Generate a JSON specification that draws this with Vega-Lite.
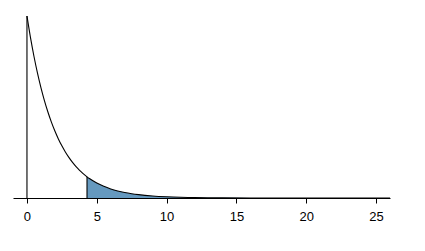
{
  "$schema": "https://vega.github.io/schema/vega-lite/v6.json",
  "width": 377,
  "height": 182,
  "autosize": "none",
  "padding": {"left": 13, "top": 16, "right": 35, "bottom": 53},
  "background": "white",
  "config": {"view": {"stroke": null}, "font": "Liberation Sans"},
  "datasets": {
    "curve": [
      {"x": 0, "y": 0.5}, {"x": 0.25, "y": 0.4412}, {"x": 0.5, "y": 0.3894}, {"x": 0.75, "y": 0.3436},
      {"x": 1, "y": 0.3033}, {"x": 1.25, "y": 0.2676}, {"x": 1.5, "y": 0.2362}, {"x": 1.75, "y": 0.2084},
      {"x": 2, "y": 0.1839}, {"x": 2.25, "y": 0.1623}, {"x": 2.5, "y": 0.1433}, {"x": 2.75, "y": 0.1264},
      {"x": 3, "y": 0.1116}, {"x": 3.25, "y": 0.0985}, {"x": 3.5, "y": 0.0869}, {"x": 3.75, "y": 0.0767},
      {"x": 4, "y": 0.0677}, {"x": 4.3, "y": 0.0582}, {"x": 4.5, "y": 0.0527}, {"x": 5, "y": 0.041},
      {"x": 5.5, "y": 0.032}, {"x": 6, "y": 0.0249}, {"x": 6.5, "y": 0.0194}, {"x": 7, "y": 0.0151},
      {"x": 7.5, "y": 0.0118}, {"x": 8, "y": 0.0092}, {"x": 9, "y": 0.0056}, {"x": 10, "y": 0.0034},
      {"x": 11, "y": 0.002}, {"x": 12, "y": 0.0012}, {"x": 13, "y": 0.00075}, {"x": 14, "y": 0.00046},
      {"x": 16, "y": 0.00017}, {"x": 18, "y": 0.00006}, {"x": 20, "y": 0.00002}, {"x": 26, "y": 0}
    ],
    "tail": [
      {"x": 4.3, "y": 0.0582}, {"x": 4.5, "y": 0.0527}, {"x": 5, "y": 0.041},
      {"x": 5.5, "y": 0.032}, {"x": 6, "y": 0.0249}, {"x": 6.5, "y": 0.0194}, {"x": 7, "y": 0.0151},
      {"x": 7.5, "y": 0.0118}, {"x": 8, "y": 0.0092}, {"x": 9, "y": 0.0056}, {"x": 10, "y": 0.0034},
      {"x": 11, "y": 0.002}, {"x": 12, "y": 0.0012}, {"x": 13, "y": 0.00075}, {"x": 14, "y": 0.00046},
      {"x": 16, "y": 0.00017}, {"x": 18, "y": 0.00006}, {"x": 20, "y": 0.00002}, {"x": 26, "y": 0}
    ],
    "edges": [
      {"x": 0, "y": 0.5},
      {"x": 4.3, "y": 0.0582}
    ]
  },
  "layer": [
    {
      "data": {"name": "tail"},
      "mark": {"type": "area", "color": "#6599BF", "interpolate": "monotone"},
      "encoding": {
        "x": {"field": "x", "type": "quantitative", "scale": {"domain": [-1, 26], "nice": false, "zero": false},
          "axis": {"values": [0, 5, 10, 15, 20, 25], "grid": false, "title": null, "domainColor": "black", "tickColor": "black", "tickSize": 5, "labelColor": "black", "labelFontSize": 13, "labelPadding": 7, "labelFont": "Liberation Sans", "domainWidth": 1}},
        "y": {"field": "y", "type": "quantitative", "scale": {"domain": [0, 0.5], "nice": false}, "axis": null}
      }
    },
    {
      "data": {"name": "curve"},
      "mark": {"type": "line", "color": "black", "strokeWidth": 1.1, "interpolate": "monotone"},
      "encoding": {
        "x": {"field": "x", "type": "quantitative"},
        "y": {"field": "y", "type": "quantitative"}
      }
    },
    {
      "data": {"name": "edges"},
      "mark": {"type": "rule", "color": "black", "strokeWidth": 1.1},
      "encoding": {
        "x": {"field": "x", "type": "quantitative"},
        "y": {"field": "y", "type": "quantitative"},
        "y2": {"datum": 0}
      }
    }
  ]
}
